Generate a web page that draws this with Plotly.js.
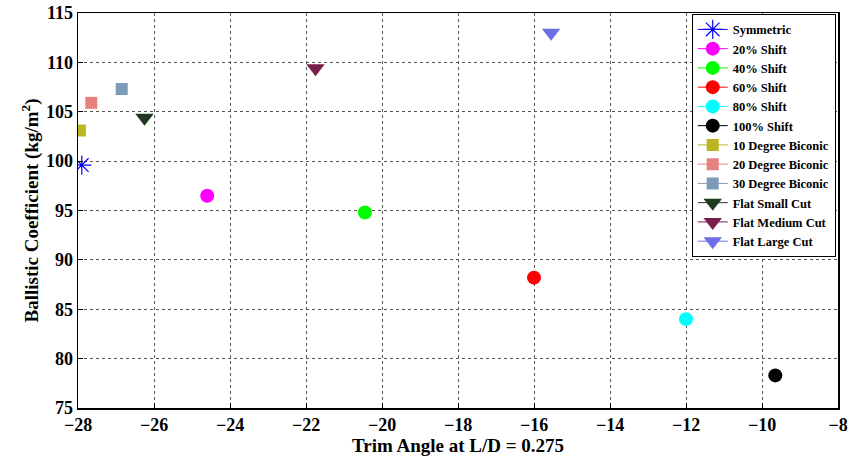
<!DOCTYPE html>
<html><head><meta charset="utf-8">
<script src="https://cdn.plot.ly/plotly-3.0.1.min.js"></script>
<style>html,body{margin:0;padding:0;background:#fff}#chart{width:850px;height:456px}</style>
</head><body><div id="chart"></div>
<script>
const names = ["Symmetric","20% Shift","40% Shift","60% Shift","80% Shift","100% Shift","10 Degree Biconic","20 Degree Biconic","30 Degree Biconic","Flat Small Cut","Flat Medium Cut","Flat Large Cut"];
const trimAngle = [-27.9,-24.6,-20.45,-16.0,-12.0,-9.65,-27.95,-27.65,-26.85,-26.25,-21.75,-15.55];
const ballistic = [99.6,96.5,94.8,88.2,84.0,78.3,103.1,105.9,107.3,104.4,109.4,113.0];
const colors = ["#0000ff","#ff00ff","#00ff00","#ff0000","#00ffff","#000000","#bcb522","#e88080","#7d9ab8","#1f3a1f","#7a1f4c","#6e6ee6"];
const symbols = ["asterisk-open","circle","circle","circle","circle","circle","square","square","square","triangle-down","triangle-down","triangle-down"];
const sizes = [16,14,14,14,14,14,12,12,12,16,16,16];

const traces = names.map((n,i)=>({
  type:'scatter', mode:'lines+markers', name:n,
  x:[trimAngle[i]], y:[ballistic[i]],
  line:{color:colors[i], width:1},
  marker:{color:colors[i], symbol:symbols[i], size:sizes[i],
          line:{color:colors[i], width: symbols[i]==='asterisk-open'?1.2:0}}
}));
const FAM = 'Liberation Serif';
const font = (s)=>({family:FAM, weight:'bold', size:s, color:'#000'});
const layout = {
  width:850, height:456,
  margin:{l:78, r:12, t:13, b:48},
  paper_bgcolor:'#fff', plot_bgcolor:'#fff',
  font:{family:FAM, weight:'bold'},
  showlegend:true,
  xaxis:{range:[-28,-7.9999], tickmode:'array', tickvals:[-28,-26,-24,-22,-20,-18,-16,-14,-12,-10,-8],
    ticklabeloverflow:'allow', showline:true, mirror:true, linecolor:'#000', linewidth:1.5,
    ticks:'inside', ticklen:5, tickcolor:'#000', showgrid:true, gridcolor:'#555', griddash:'dot', gridwidth:1,
    zeroline:false, tickfont:font(18),
    title:{text:'Trim Angle at L/D = 0.275', font:font(19), standoff:2}},
  yaxis:{range:[75,115], dtick:5, tick0:75, showline:true, mirror:true, linecolor:'#000', linewidth:1.5,
    ticks:'inside', ticklen:5, tickcolor:'#000', showgrid:true, gridcolor:'#555', griddash:'dot', gridwidth:1,
    zeroline:false, tickfont:font(18),
    title:{text:'Ballistic Coefficient (kg/m<sup>2</sup>)', font:font(19), standoff:2}},
  legend:{x:0.997, xanchor:'right', y:0.998, yanchor:'top', bgcolor:'#fff', bordercolor:'#000', borderwidth:1,
    font:font(12.5), tracegroupgap:0, itemwidth:30}
};
Plotly.newPlot('chart', traces, layout, {displayModeBar:false, staticPlot:true});
</script></body></html>
